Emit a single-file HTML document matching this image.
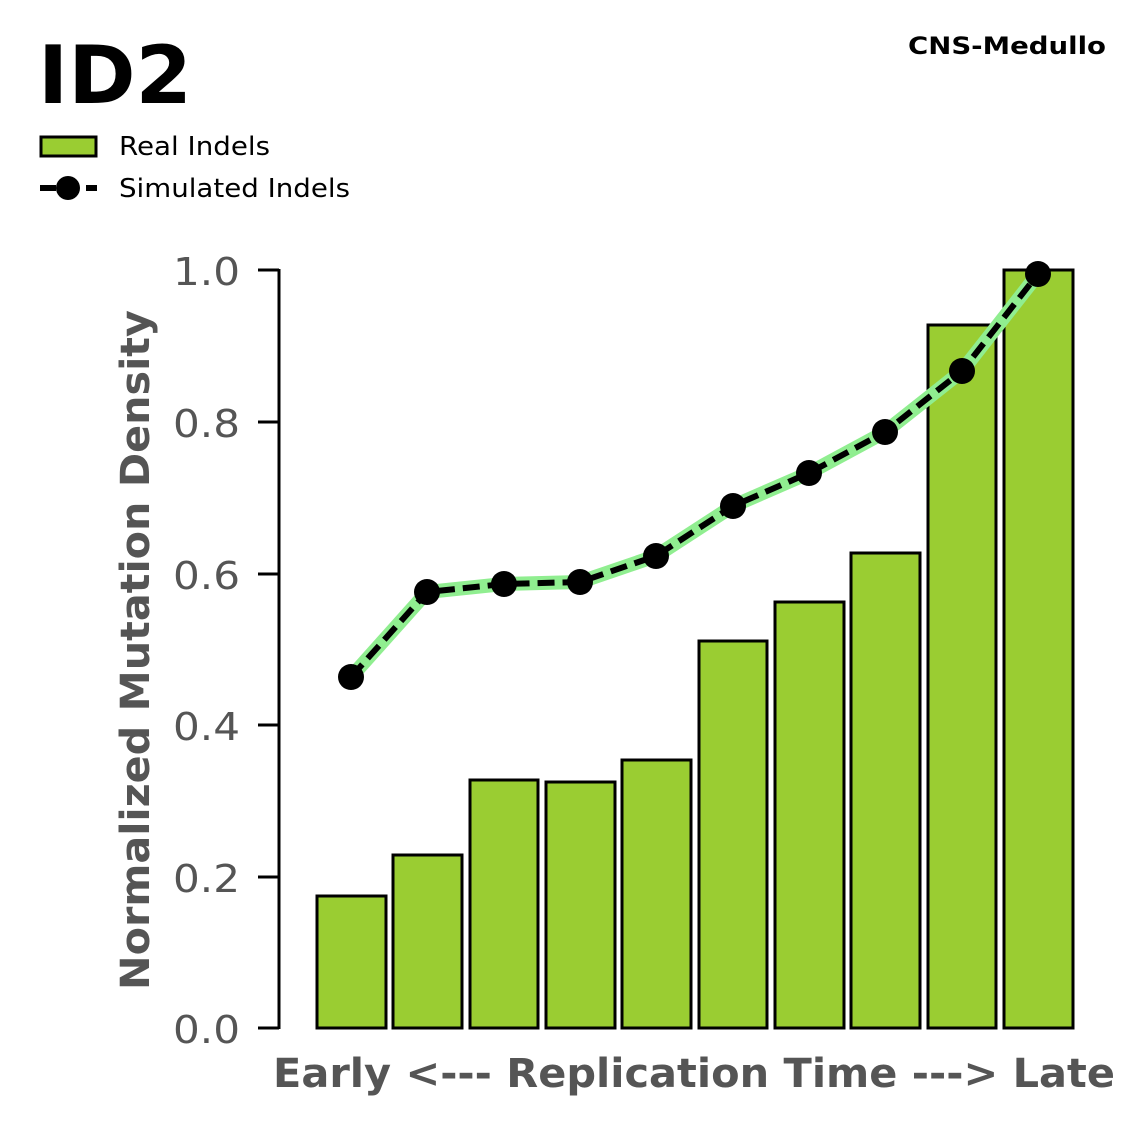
<!DOCTYPE html>
<html><head><meta charset="utf-8"><style>
html,body{margin:0;padding:0;background:#fff;}
svg{display:block;font-family:"DejaVu Sans","Liberation Sans",sans-serif;}
</style></head><body>
<svg width="1147" height="1125" viewBox="0 0 1147 1125" xmlns="http://www.w3.org/2000/svg">
<text x="38" y="103" font-size="80" font-weight="bold" fill="#000" textLength="154" lengthAdjust="spacingAndGlyphs">ID2</text>
<text x="908" y="54" font-size="24" font-weight="bold" fill="#000" textLength="198" lengthAdjust="spacingAndGlyphs">CNS-Medullo</text>
<rect x="41" y="137" width="55" height="19" fill="#9acd32" stroke="#000" stroke-width="3"/>
<text x="119" y="155" font-size="26" fill="#000" textLength="151" lengthAdjust="spacingAndGlyphs">Real Indels</text>
<line x1="40" y1="188" x2="97" y2="188" stroke="#000" stroke-width="6" stroke-dasharray="16,7"/>
<circle cx="68" cy="188" r="12" fill="#000"/>
<text x="119" y="197" font-size="26" fill="#000" textLength="231" lengthAdjust="spacingAndGlyphs">Simulated Indels</text>
<g stroke="#000" stroke-width="3" fill="#9acd32">
<rect x="317" y="896" width="69" height="132"/>
<rect x="393" y="855" width="69" height="173"/>
<rect x="470" y="780" width="68" height="248"/>
<rect x="546" y="782" width="69" height="246"/>
<rect x="622" y="760" width="69" height="268"/>
<rect x="699" y="641" width="68" height="387"/>
<rect x="775" y="602" width="69" height="426"/>
<rect x="851" y="553" width="69" height="475"/>
<rect x="928" y="325" width="68" height="703"/>
<rect x="1004" y="270" width="69" height="758"/>
</g>
<polyline points="351,677 427,592 504,584 580,582 656,556 733,506 809,473 885,432 962,371 1038,274" fill="none" stroke="#90ee90" stroke-width="14" stroke-linejoin="round"/>
<polyline points="351,677 427,592 504,584 580,582 656,556 733,506 809,473 885,432 962,371 1038,274" fill="none" stroke="#000" stroke-width="6" stroke-dasharray="17,8"/>
<g fill="#000">
<circle cx="351" cy="677" r="13"/><circle cx="427" cy="592" r="13"/><circle cx="504" cy="584" r="13"/><circle cx="580" cy="582" r="13"/><circle cx="656" cy="556" r="13"/><circle cx="733" cy="506" r="13"/><circle cx="809" cy="473" r="13"/><circle cx="885" cy="432" r="13"/><circle cx="962" cy="371" r="13"/><circle cx="1038" cy="274" r="13"/>
</g>
<line x1="279" y1="269" x2="279" y2="1029" stroke="#000" stroke-width="3"/>
<g stroke="#000" stroke-width="3">
<line x1="258" y1="270" x2="279" y2="270"/><line x1="258" y1="422" x2="279" y2="422"/><line x1="258" y1="574" x2="279" y2="574"/><line x1="258" y1="725" x2="279" y2="725"/><line x1="258" y1="877" x2="279" y2="877"/><line x1="258" y1="1028" x2="279" y2="1028"/>
</g>
<g font-size="38" fill="#555">
<text x="173" y="285" textLength="67" lengthAdjust="spacingAndGlyphs">1.0</text>
<text x="173" y="437" textLength="67" lengthAdjust="spacingAndGlyphs">0.8</text>
<text x="173" y="589" textLength="67" lengthAdjust="spacingAndGlyphs">0.6</text>
<text x="173" y="740" textLength="67" lengthAdjust="spacingAndGlyphs">0.4</text>
<text x="173" y="892" textLength="67" lengthAdjust="spacingAndGlyphs">0.2</text>
<text x="173" y="1043" textLength="67" lengthAdjust="spacingAndGlyphs">0.0</text>
</g>
<text transform="translate(149,990) rotate(-90)" font-size="40" font-weight="bold" fill="#555" textLength="680" lengthAdjust="spacingAndGlyphs">Normalized Mutation Density</text>
<text x="273" y="1087" font-size="40" font-weight="bold" fill="#555" textLength="842" lengthAdjust="spacingAndGlyphs">Early &lt;--- Replication Time ---&gt; Late</text>
</svg>
</body></html>
